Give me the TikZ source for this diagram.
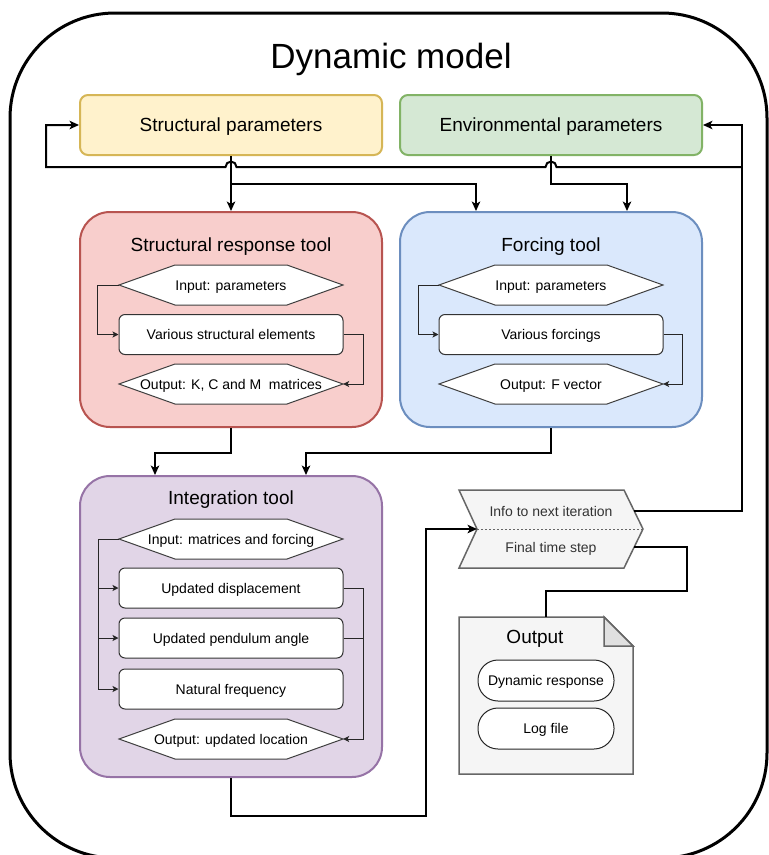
\documentclass[tikz,border=0pt]{standalone}
\usepackage{fontspec}
\setmainfont{Liberation Sans}
\usetikzlibrary{arrows.meta,calc}
\definecolor{spF}{HTML}{FFF2CC}\definecolor{spD}{HTML}{D6B656}
\definecolor{epF}{HTML}{D5E8D4}\definecolor{epD}{HTML}{82B366}
\definecolor{rF}{HTML}{F8CECC}\definecolor{rD}{HTML}{B85450}
\definecolor{bF}{HTML}{DAE8FC}\definecolor{bD}{HTML}{6C8EBF}
\definecolor{pF}{HTML}{E1D5E7}\definecolor{pD}{HTML}{9673A6}
\definecolor{gF}{HTML}{F5F5F5}\definecolor{gD}{HTML}{666666}
\definecolor{gT}{HTML}{333333}
\newcommand{\hexshape}[2]{\filldraw[hexd] (#1-112,#2) -- (#1-56,#2-20) -- (#1+56,#2-20) -- (#1+112,#2) -- (#1+56,#2+20) -- (#1-56,#2+20) -- cycle;}
\begin{document}
\begin{tikzpicture}[x=1pt,y=-1pt,
  bigf/.style={font=\fontsize{19}{23}\selectfont, text height=13.6pt, text depth=0pt},
  smallf/.style={font=\fontsize{14}{17}\selectfont, text height=10pt, text depth=0pt},
  pbox/.style n args={2}{draw=#1, fill=#2, line width=2pt, rounded corners=8pt, minimum width=302pt, minimum height=60pt, inner sep=0pt, bigf},
  toolbox/.style n args={2}{draw=#1, fill=#2, line width=2pt, rounded corners=30pt, inner sep=0pt, minimum width=302pt},
  ttl/.style={bigf, inner sep=0pt},
  lbl/.style={smallf, inner sep=0pt},
  wbox/.style={lbl, draw=black!80, fill=white, line width=1pt, rounded corners=6pt, minimum width=224pt, minimum height=40pt},
  hexl/.style={lbl, minimum width=224pt, minimum height=40pt},
  hexd/.style={draw=black!75, fill=white, line width=1pt},
  pill/.style={lbl, draw=black!85, fill=white, line width=1pt, rounded corners=20pt, minimum width=136pt, minimum height=41pt},
  marrow/.style={line width=2pt, -{Stealth[length=9.5pt,width=8.5pt,inset=2.5pt]}},
  mline/.style={line width=2pt},
  inarrow/.style={line width=1pt, draw=black!85, -{Stealth[length=6pt,width=6pt,inset=1.5pt]}},
  inline/.style={line width=1pt, draw=black!85},
  gshape/.style={draw=gD, fill=gF, line width=1.5pt},
]
\useasboundingbox (0,0) rectangle (769,855);
\clip (0,0) rectangle (769,855);
\fill[white] (0,0) rectangle (769,855);
\draw[line width=3pt, rounded corners=105pt] (10,13) rectangle (767,858);

\node[font=\fontsize{35}{42}\selectfont, inner sep=0pt, anchor=base] (title) at (391,68) {Dynamic model};

% parameter boxes
\node[pbox={spD}{spF}] (sp) at (231,125) {Structural parameters};
\node[pbox={epD}{epF}] (ep) at (551,125) {Environmental parameters};

% tool boxes
\node[toolbox={rD}{rF}, minimum height=215pt] (srt) at (231,319.5) {};
\node[toolbox={bD}{bF}, minimum height=215pt] (ft) at (551,319.5) {};
\node[toolbox={pD}{pF}, minimum height=301pt] (it) at (231,626.5) {};

\node[ttl] (srtt) at (231,245) {Structural response tool};
\node[ttl] (ftt) at (551,245) {Forcing tool};
\node[ttl] (itt) at (231,498) {Integration tool};

% structural tool content
\hexshape{231}{285}
\node[hexl] (si) at (231,285) {Input: parameters};
\node[wbox] (se) at (231,334.5) {Various structural elements};
\hexshape{231}{384}
\node[hexl] (so) at (231,384) {Output: K, C and M~ matrices};
\draw[inarrow] (si.west) -- ++(-21,0) |- (se.west);
\draw[inarrow] (se.east) -- ++(20,0) |- (so.east);

% forcing tool content
\hexshape{551}{285}
\node[hexl] (fi) at (551,285) {Input: parameters};
\node[wbox] (fe) at (551,334.5) {Various forcings};
\hexshape{551}{384}
\node[hexl] (fo) at (551,384) {Output: F vector};
\draw[inarrow] (fi.west) -- ++(-20,0) |- (fe.west);
\draw[inarrow] (fe.east) -- ++(19,0) |- (fo.east);

% integration tool content
\hexshape{231}{539}
\node[hexl] (ii) at (231,539) {Input: matrices and forcing};
\node[wbox] (idisp) at (231,588) {Updated displacement};
\node[wbox] (ipend) at (231,638) {Updated pendulum angle};
\node[wbox] (inf) at (231,689) {Natural frequency};
\hexshape{231}{739}
\node[hexl] (io) at (231,739) {Output: updated location};
\coordinate (ileft) at ($(ii.west)+(-20,0)$);
\draw[inarrow] (ii.west) -- (ileft) |- (inf.west);
\draw[inarrow] (ileft |- idisp.west) -- (idisp.west);
\draw[inarrow] (ileft |- ipend.west) -- (ipend.west);
\draw[inarrow] (idisp.east) -- ++(20,0) |- (io.east);
\draw[inline] (ipend.east) -- ++(20,0);

% chevron (step)
\filldraw[gshape] (459,490) -- (624,490) -- (643,529) -- (624,568) -- (459,568) -- (477,529) -- cycle;
\coordinate (notch) at (477,529);
\coordinate (tip) at (643,529);
\draw[gD, line width=1pt, dash pattern=on 2pt off 2pt] (notch) -- (tip);
\node[lbl, text=gT, minimum width=166pt, minimum height=38pt] (info) at (551,511) {Info to next iteration};
\node[lbl, text=gT, minimum width=166pt, minimum height=38pt] (final) at (551,547) {Final time step};

% output document
\filldraw[gshape] (459,617) -- (604,617) -- (633,646) -- (633,774) -- (459,774) -- cycle;
\filldraw[gshape, fill=black!12] (604,617) -- (604,646) -- (633,646) -- cycle;
\node[minimum width=174pt, minimum height=157pt, inner sep=0pt] (out) at (546,695.5) {};
\node[ttl] (outt) at (535,637) {Output};
\node[pill] (dr) at (546,680.5) {Dynamic response};
\node[pill] (lf) at (546,728.5) {Log file};

% main connectors
\draw[marrow] (sp.south) -- (srt.north);
\draw[marrow] ($(sp.south)+(0,28)$) -| ($(ft.north)+(-75,0)$);
\draw[marrow] (ep.south) -- ++(0,28) -| ($(ft.north)+(76,0)$);
\draw[marrow] (info.east) -| ($(ep.east)+(39,0)$) -- (ep.east);
\coordinate (j1) at ($(ep.east)+(39,42)$);
\draw[marrow] (j1) -- (556.5,167) arc[start angle=0,end angle=180,radius=5.5pt]
  -- (236.5,167) arc[start angle=0,end angle=180,radius=5.5pt]
  -- (46,167) -- (46,125) -- (sp.west);
\draw[marrow] (srt.south) -- ++(0,25) -| ($(it.north)+(-76,0)$);
\draw[marrow] (ft.south) -- ++(0,25) -| ($(it.north)+(75,0)$);
\draw[marrow] (it.south) -- ++(0,38) -| ($(notch)+(-51,0)$) -- (notch);
\draw[mline] (final.east) -- ++(53,0) -- ++(0,44) -| (out.north);
\end{tikzpicture}
\end{document}
